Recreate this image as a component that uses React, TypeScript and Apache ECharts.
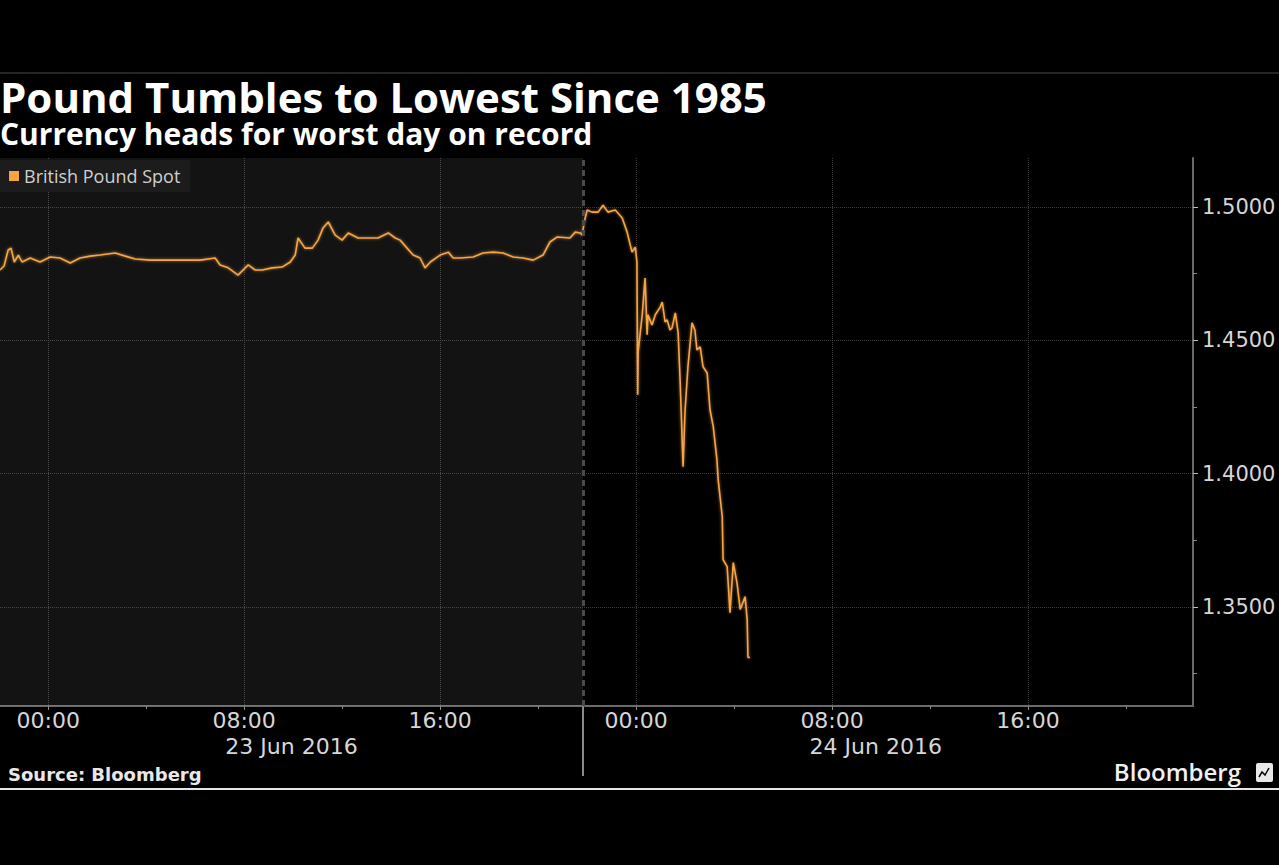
import React, { useEffect, useRef } from "react";
import * as echarts from "echarts";

// ---- Data (times are "MM-DD HH:MM", 2016) ----
const TIMES: string[] = [
  "06-22 22:02", "06-22 22:12", "06-22 22:22", "06-22 22:29", "06-22 22:37", "06-22 22:47", "06-22 22:56",
  "06-22 23:16", "06-22 23:40", "06-23 00:05", "06-23 00:29", "06-23 00:54", "06-23 01:18", "06-23 01:43",
  "06-23 02:07", "06-23 02:44", "06-23 03:09", "06-23 03:33", "06-23 04:10", "06-23 04:47", "06-23 05:23",
  "06-23 06:12", "06-23 06:49", "06-23 07:01", "06-23 07:21", "06-23 07:45", "06-23 08:10", "06-23 08:27",
  "06-23 08:44", "06-23 09:09", "06-23 09:33", "06-23 09:53", "06-23 10:05", "06-23 10:12", "06-23 10:29",
  "06-23 10:47", "06-23 11:01", "06-23 11:13", "06-23 11:26", "06-23 11:43", "06-23 12:00", "06-23 12:15",
  "06-23 12:39", "06-23 13:04", "06-23 13:28", "06-23 13:53", "06-23 14:10", "06-23 14:22", "06-23 14:39",
  "06-23 14:54", "06-23 15:11", "06-23 15:23", "06-23 15:36", "06-23 16:00", "06-23 16:20", "06-23 16:32",
  "06-23 16:49", "06-23 17:21", "06-23 17:45", "06-23 18:10", "06-23 18:34", "06-23 18:59", "06-23 19:23",
  "06-23 19:48", "06-23 20:12", "06-23 20:29", "06-23 20:47", "06-23 21:18", "06-23 21:31", "06-23 21:43",
  "06-23 21:48", "06-23 21:53", "06-23 22:00", "06-23 22:12", "06-23 22:27", "06-23 22:39", "06-23 22:51",
  "06-23 23:09", "06-23 23:26", "06-23 23:38", "06-23 23:50", "06-23 23:58", "06-24 00:02", "06-24 00:04",
  "06-24 00:05", "06-24 00:15", "06-24 00:22", "06-24 00:27", "06-24 00:29", "06-24 00:39", "06-24 00:47",
  "06-24 00:59", "06-24 01:04", "06-24 01:11", "06-24 01:16", "06-24 01:23", "06-24 01:28", "06-24 01:36",
  "06-24 01:43", "06-24 01:48", "06-24 01:55", "06-24 02:00", "06-24 02:07", "06-24 02:17", "06-24 02:24",
  "06-24 02:29", "06-24 02:37", "06-24 02:44", "06-24 02:54", "06-24 03:01", "06-24 03:09", "06-24 03:18",
  "06-24 03:21", "06-24 03:31", "06-24 03:33", "06-24 03:43", "06-24 03:50", "06-24 03:58", "06-24 04:07",
  "06-24 04:15", "06-24 04:27", "06-24 04:32", "06-24 04:34", "06-24 04:39",
];

const GBP: number[] = [
  1.4764, 1.4779, 1.4839, 1.4846, 1.4794, 1.482, 1.4794,
  1.4809, 1.4794, 1.4813, 1.4809, 1.479, 1.4809, 1.4816,
  1.482, 1.4828, 1.4816, 1.4805, 1.4801, 1.4801, 1.4801,
  1.4801, 1.4809, 1.4783, 1.4772, 1.4745, 1.4783, 1.4764,
  1.4764, 1.4772, 1.4775, 1.4794, 1.482, 1.4884, 1.4846,
  1.4846, 1.4876, 1.4921, 1.4944, 1.4895, 1.4876, 1.4903,
  1.4884, 1.4884, 1.4884, 1.4903, 1.4884, 1.4876, 1.4846,
  1.482, 1.4809, 1.4772, 1.4794, 1.482, 1.4831, 1.4809,
  1.4809, 1.4813, 1.4828, 1.4831, 1.4828, 1.4813, 1.4809,
  1.4801, 1.482, 1.4869, 1.4888, 1.4884, 1.4906, 1.4903,
  1.4895, 1.4944, 1.4989, 1.4981, 1.4981, 1.5007, 1.4981,
  1.4989, 1.4959, 1.4906, 1.4831, 1.485, 1.4794, 1.4296,
  1.4457, 1.4596, 1.4734, 1.4521, 1.4596, 1.4558, 1.4596,
  1.4625, 1.4644, 1.4569, 1.4577, 1.4539, 1.4547, 1.4603,
  1.4528, 1.4341, 1.4026, 1.424, 1.4401, 1.4566, 1.4539,
  1.4464, 1.4476, 1.4401, 1.4378, 1.424, 1.4176, 1.4052,
  1.3978, 1.3839, 1.3678, 1.3652, 1.3479, 1.3667, 1.3592,
  1.3491, 1.3539, 1.3453, 1.3311, 1.3311,
];

const SERIES_NAME = "British Pound Spot";
const X_START = "06-22 22:02";
const X_END = "06-24 22:44";
const SESSION_BREAK = "06-23 21:50";
const X_MAJOR = ["06-23 00:00", "06-23 08:00", "06-23 16:00", "06-24 00:00", "06-24 08:00", "06-24 16:00"];
const X_MINOR = ["06-23 04:00", "06-23 12:00", "06-23 20:00", "06-24 04:00", "06-24 12:00", "06-24 20:00"];
const DAY_LABELS = ["23 Jun 2016", "24 Jun 2016"];
const Y_MIN = 1.3129;
const Y_MAX = 1.5184;
const Y_MAJOR = [1.35, 1.4, 1.45, 1.5];
const Y_MINOR = [1.325, 1.375, 1.425, 1.475];

const TITLE = "Pound Tumbles to Lowest Since 1985";
const SUBTITLE = "Currency heads for worst day on record";
const SOURCE = "Source: Bloomberg";
const BRAND = "Bloomberg";

// hours since 23 Jun 2016 00:00
function toHours(s: string): number {
  const day = parseInt(s.slice(3, 5), 10);
  const hh = parseInt(s.slice(6, 8), 10);
  const mm = parseInt(s.slice(9, 11), 10);
  return (day - 23) * 24 + hh + mm / 60;
}

function fmtClock(h: number): string {
  const t = ((h % 24) + 24) % 24;
  const hh = Math.floor(t + 1e-6);
  const mm = Math.round((t - hh) * 60);
  return String(hh).padStart(2, "0") + ":" + String(mm).padStart(2, "0");
}

export default function App() {
  const ref = useRef<HTMLDivElement>(null);

  useEffect(() => {
    if (!ref.current) return;
    const chart = echarts.init(ref.current, undefined, { renderer: "svg" });

    const xMin = toHours(X_START);
    const xMax = toHours(X_END);
    const brk = toHours(SESSION_BREAK);
    const dayCenters = [(xMin + brk) / 2, (brk + xMax) / 2 - 0.5];
    const data = TIMES.map((t, i) => [toHours(t), GBP[i]]);

    const axisFont = "DejaVu Sans";
    const labelColor = "#d6d6d6";
    const gridColor = "#3c3c3c";

    chart.setOption({
      animation: false,
      backgroundColor: "#000",
      title: [
        {
          text: TITLE,
          left: 0,
          top: 75,
          padding: 0,
          textStyle: { color: "#ffffff", fontSize: 42, lineHeight: 42, fontWeight: "bold", fontFamily: "Open Sans" },
        },
        {
          text: SUBTITLE,
          left: 0,
          top: 118,
          padding: 0,
          textStyle: { color: "#ffffff", fontSize: 30, lineHeight: 30, fontWeight: "bold", fontFamily: "Open Sans" },
        },
        {
          text: SOURCE,
          left: 8,
          top: 765,
          padding: 0,
          textStyle: { color: "#e8e8e8", fontSize: 18, fontWeight: "bold", fontFamily: "DejaVu Sans" },
        },
        {
          text: BRAND,
          right: 38,
          top: 759,
          padding: 0,
          textStyle: { color: "#f0f0f0", fontSize: 24, fontWeight: 600, fontFamily: "Open Sans" },
        },
      ],
      legend: {
        data: [SERIES_NAME],
        left: 0,
        top: 160,
        padding: [7, 10, 7, 9],
        backgroundColor: "#1c1c1c",
        icon: "rect",
        itemWidth: 10,
        itemHeight: 10,
        itemGap: 6,
        textStyle: { color: "#cfcfcf", fontSize: 18, fontFamily: "Open Sans" },
      },
      grid: { left: 0, right: 86, top: 158, bottom: 159, outerBoundsMode: "none" },
      xAxis: [
        {
          type: "value",
          min: xMin,
          max: xMax,
          position: "bottom",
          axisLine: { show: true, onZero: false, lineStyle: { color: "#6a6a6a", width: 2 } },
          axisTick: { show: true, customValues: X_MAJOR.map(toHours), length: 4, lineStyle: { color: "#888" } },
          axisLabel: {
            show: true,
            customValues: X_MAJOR.map(toHours),
            formatter: (v: number) => fmtClock(v),
            color: labelColor,
            fontSize: 22,
            fontFamily: axisFont,
            margin: 3,
          },
          splitLine: { show: true, lineStyle: { color: gridColor, type: "dotted", width: 1 } },
        },
        {
          type: "value",
          min: xMin,
          max: xMax,
          position: "bottom",
          axisLine: { show: false, onZero: false },
          axisTick: { show: true, customValues: X_MINOR.map(toHours), length: 3, lineStyle: { color: "#888" } },
          axisLabel: { show: false },
          splitLine: { show: false },
        },
        {
          type: "value",
          min: xMin,
          max: xMax,
          position: "bottom",
          axisLine: { show: false, onZero: false },
          axisTick: { show: true, customValues: [brk], length: 70, lineStyle: { color: "#8a8a8a", width: 2 } },
          axisLabel: {
            show: true,
            customValues: dayCenters,
            formatter: (v: number) => (v < brk ? DAY_LABELS[0] : DAY_LABELS[1]),
            color: labelColor,
            fontSize: 22,
            fontFamily: axisFont,
            margin: 29,
          },
          splitLine: { show: false },
        },
      ],
      yAxis: [
        {
          type: "value",
          min: Y_MIN,
          max: Y_MAX,
          position: "right",
          axisLine: { show: true, onZero: false, lineStyle: { color: "#6a6a6a", width: 2 } },
          axisTick: { show: true, customValues: Y_MAJOR, length: 5, lineStyle: { color: "#bbb" } },
          axisLabel: {
            show: true,
            customValues: Y_MAJOR,
            formatter: (v: number) => v.toFixed(4),
            color: labelColor,
            fontSize: 21,
            fontFamily: axisFont,
            margin: 9,
          },
          splitLine: { show: true, lineStyle: { color: gridColor, type: "dotted", width: 1 } },
        },
        {
          type: "value",
          min: Y_MIN,
          max: Y_MAX,
          position: "right",
          axisLine: { show: false, onZero: false },
          axisTick: { show: true, customValues: Y_MINOR, length: 4, lineStyle: { color: "#888" } },
          axisLabel: { show: false },
          splitLine: { show: false },
        },
      ],
      series: [
        {
          name: SERIES_NAME,
          type: "line",
          xAxisIndex: 0,
          yAxisIndex: 0,
          data,
          showSymbol: false,
          symbol: "none",
          itemStyle: { color: "#f5a544" },
          lineStyle: {
            color: "#f5a544",
            width: 1.6,
            shadowColor: "rgba(245,165,68,0.7)",
            shadowBlur: 3,
          },
          markArea: {
            silent: true,
            itemStyle: { color: "rgba(255,255,255,0.075)" },
            data: [[{ xAxis: xMin }, { xAxis: brk }]],
          },
          markLine: {
            silent: true,
            symbol: "none",
            label: { show: false },
            lineStyle: { color: "#4a4a4a", type: [6, 4], width: 3 },
            data: [{ xAxis: brk }],
          },
          z: 3,
        },
      ],
      graphic: [
        {
          type: "line",
          shape: { x1: 0, y1: 73, x2: 1279, y2: 73 },
          style: { stroke: "#4a4a4a", lineWidth: 1 },
        },
        {
          type: "line",
          shape: { x1: 0, y1: 789, x2: 1279, y2: 789 },
          style: { stroke: "#e6e6e6", lineWidth: 2 },
        },
        {
          type: "group",
          x: 1256,
          y: 763,
          children: [
            { type: "rect", shape: { x: 0, y: 0, width: 17, height: 19, r: 2 }, style: { fill: "#e8e8e8" } },
            {
              type: "polyline",
              shape: { points: [[3, 14], [6, 9], [9, 12], [13, 5]] },
              style: { stroke: "#000", lineWidth: 1.5, fill: "none" },
            },
          ],
        },
      ],
    });

    return () => chart.dispose();
  }, []);

  return (
    <div
      ref={ref}
      style={{ position: "fixed", left: 0, top: 0, width: 1279, height: 865, background: "#000" }}
    />
  );
}
